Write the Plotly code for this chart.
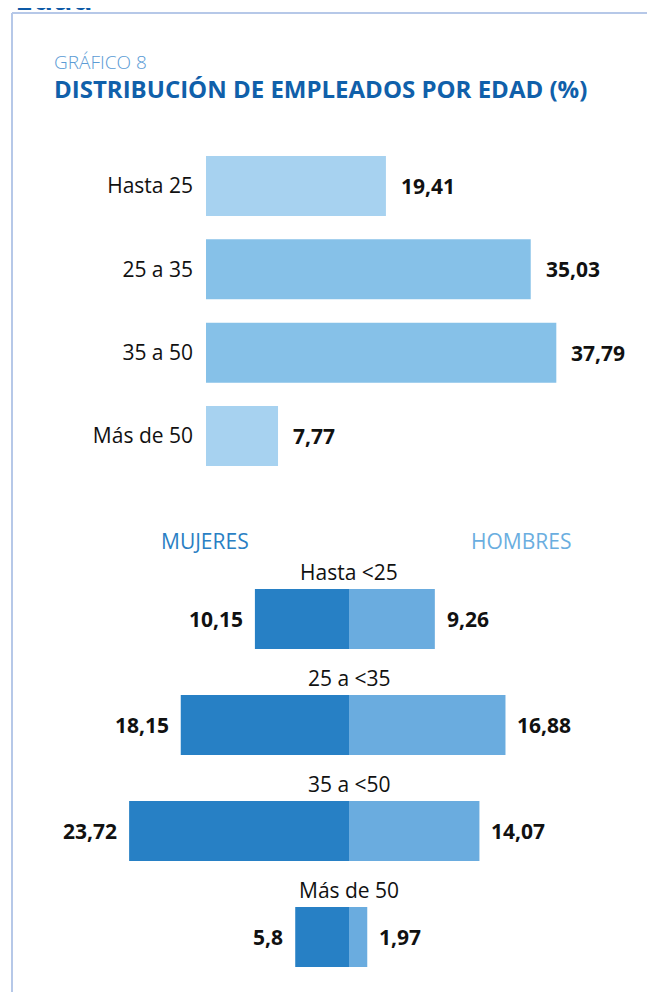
import plotly.graph_objects as go

# ---- data ----
age_groups = ["Hasta 25", "25 a 35", "35 a 50", "Más de 50"]
age_values = [19.41, 35.03, 37.79, 7.77]

gender_groups = ["Hasta <25", "25 a <35", "35 a <50", "Más de 50"]
mujeres_values = [10.15, 18.15, 23.72, 5.8]
hombres_values = [9.26, 16.88, 14.07, 1.97]

# page has an 8px body margin; figure fills the rest of the 655x992 window
OFF = 8
W, H = 655 - OFF, 992 - OFF
FONT = "Open Sans"
PXU = 9.27  # pixels per percentage unit


def px_x(p):
    return (p - OFF) / W


def px_y(p):
    return 1 - (p - OFF) / H


def fmt(v):
    return str(v).replace(".", ",")


fig = go.Figure()

# top chart
top_colors = ["#a7d2f0", "#86c1e8", "#86c1e8", "#a7d2f0"]
fig.add_trace(go.Bar(
    x=age_values, y=age_groups, orientation="h",
    marker=dict(color=top_colors, line=dict(width=0)),
    width=0.72, xaxis="x", yaxis="y", hoverinfo="skip", showlegend=False,
))

# bottom chart
fig.add_trace(go.Bar(
    x=[-v for v in mujeres_values], y=gender_groups, orientation="h",
    marker=dict(color="#2780c5", line=dict(width=0)),
    width=0.566, xaxis="x2", yaxis="y2", hoverinfo="skip", showlegend=False,
))
fig.add_trace(go.Bar(
    x=hombres_values, y=gender_groups, orientation="h",
    marker=dict(color="#6aacdf", line=dict(width=0)),
    width=0.566, xaxis="x2", yaxis="y2", hoverinfo="skip", showlegend=False,
))

VAL_FONT = dict(family=FONT, size=21, color="#111111")
LBL_FONT = dict(family=FONT, size=21, color="#111111")

annotations = []
# value labels top
for g, v in zip(age_groups, age_values):
    annotations.append(dict(x=v, y=g, xref="x", yref="y", text=f"<b>{fmt(v)}</b>",
                            showarrow=False, xanchor="left", xshift=13,
                            font=VAL_FONT))
# value labels bottom
for g, m, h in zip(gender_groups, mujeres_values, hombres_values):
    annotations.append(dict(x=-m, y=g, xref="x2", yref="y2", text=f"<b>{fmt(m)}</b>",
                            showarrow=False, xanchor="right", xshift=-10,
                            font=VAL_FONT))
    annotations.append(dict(x=h, y=g, xref="x2", yref="y2", text=f"<b>{fmt(h)}</b>",
                            showarrow=False, xanchor="left", xshift=10,
                            font=VAL_FONT))
    annotations.append(dict(x=0, y=g, xref="x2", yref="y2", text=g,
                            showarrow=False, xanchor="center", yshift=47,
                            font=LBL_FONT))

# headings
annotations += [
    dict(x=px_x(13), y=px_y(21), xref="paper", yref="paper", text="<b>Edad</b>",
         showarrow=False, xanchor="left", yanchor="bottom",
         font=dict(family=FONT, size=32, color="#0d5aa7")),
    dict(x=px_x(53), y=px_y(62), xref="paper", yref="paper", text="GRÁFICO 8",
         showarrow=False, xanchor="left", yanchor="middle", borderpad=0,
         font=dict(family=FONT, size=19, color="#5b9bd5", weight=300)),
    dict(x=px_x(53), y=px_y(88), xref="paper", yref="paper",
         text="<b>DISTRIBUCIÓN DE EMPLEADOS POR EDAD (%)</b>",
         showarrow=False, xanchor="left", yanchor="middle", borderpad=0,
         font=dict(family=FONT, size=24, color="#1060aa")),
    dict(x=px_x(205), y=px_y(541), xref="paper", yref="paper", text="MUJERES",
         showarrow=False, xanchor="center", yanchor="middle",
         font=dict(family=FONT, size=21, color="#2a7fc4")),
    dict(x=px_x(521), y=px_y(541), xref="paper", yref="paper", text="HOMBRES",
         showarrow=False, xanchor="center", yanchor="middle",
         font=dict(family=FONT, size=21, color="#6aaee0")),
]

border = "#b6c8e8"
shapes = [
    dict(type="line", xref="paper", yref="paper", x0=px_x(12), x1=1.01,
         y0=px_y(13), y1=px_y(13), line=dict(color=border, width=2)),
    dict(type="line", xref="paper", yref="paper", x0=px_x(12), x1=px_x(12),
         y0=px_y(13), y1=-0.01, line=dict(color=border, width=2)),
]

top_x0, top_x1 = 206, 640
bot_x0, bot_x1, bot_c = 20, 640, 349

fig.update_layout(
    width=W, height=H,
    margin=dict(l=0, r=0, t=0, b=0),
    paper_bgcolor="white", plot_bgcolor="white",
    barmode="relative",
    font=dict(family=FONT, size=21, color="#111111"),
    annotations=annotations, shapes=shapes,
    xaxis=dict(domain=[px_x(top_x0), px_x(top_x1)],
               range=[0, (top_x1 - top_x0) / PXU],
               visible=False, fixedrange=True, anchor="y"),
    yaxis=dict(domain=[px_y(477.7), px_y(144.3)], type="category",
               categoryorder="array", categoryarray=age_groups,
               range=[3.5, -0.5], showgrid=False, zeroline=False, showline=False,
               ticks="", ticklabelstandoff=12, anchor="x",
               tickfont=LBL_FONT),
    xaxis2=dict(domain=[px_x(bot_x0), px_x(bot_x1)],
                range=[-(bot_c - bot_x0) / PXU, (bot_x1 - bot_c) / PXU],
                visible=False, fixedrange=True, anchor="y2"),
    yaxis2=dict(domain=[px_y(990), px_y(566)], type="category",
                categoryorder="array", categoryarray=gender_groups,
                range=[3.5, -0.5], visible=False, anchor="x2"),
)

fig.write_html("out.html")
